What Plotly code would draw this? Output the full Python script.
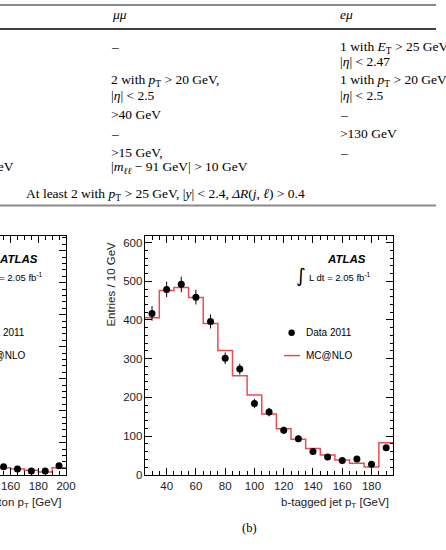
import plotly.graph_objects as go

W, H = 446, 550

# ---------------- data ----------------
# right panel: b-tagged jet pT
b_centers = [30, 40, 50, 60, 70, 80, 90, 100, 110, 120, 130, 140, 150, 160, 170, 180, 190]
b_data = [417, 479, 492, 459, 396, 301, 273, 184, 162, 115, 93, 60, 46, 37, 41, 27, 70]
b_err = [19, 20, 20, 19, 18, 15, 14, 12, 11, 9, 8, 7, 6, 5, 5, 4, 7]
b_mc = [406, 476, 484, 458, 391, 321, 256, 206, 157, 119, 92, 68, 51, 38, 30, 20, 83]
b_edges = [25, 35, 45, 55, 65, 75, 85, 95, 105, 115, 125, 135, 145, 155, 165, 175, 185, 195]

# left panel (mostly cropped): lepton pT
l_centers = [145, 155, 165, 175, 185, 195]
l_data = [35, 25, 18, 12, 12, 28]
l_err = [6, 5, 4, 4, 4, 5]
l_mc = [32, 22, 18, 14, 9, 22]
l_edges = [140, 150, 160, 170, 180, 190, 200]

# table text
hdr_cols = ["<i>μμ</i>", "<i>eμ</i>"]
mumu_lines = ["–",
              "2 with <i>p</i><sub>T</sub> > 20 GeV,",
              "|<i>η</i>| < 2.5",
              ">40 GeV",
              "–",
              ">15 GeV,",
              "|<i>m</i><sub><i>ℓℓ</i></sub> − 91 GeV| > 10 GeV"]
emu_lines = ["1 with <i>E</i><sub>T</sub> > 25 GeV",
             "|<i>η</i>| < 2.47",
             "1 with <i>p</i><sub>T</sub> > 20 GeV",
             "|<i>η</i>| < 2.5",
             "–",
             ">130 GeV",
             "–"]
first_col_tail = "|<i>m</i><sub><i>ℓℓ</i></sub> − 91 GeV| > 10 GeV"
jets_line = "At least 2 with <i>p</i><sub>T</sub> > 25 GeV, |<i>y</i>| < 2.4, <i>ΔR</i>(<i>j</i>, <i>ℓ</i>) > 0.4"

# ---------------- layout helpers ----------------
def px(x):
    return x / W

def py(y):
    return 1 - y / H

SERIF = "Liberation Serif"
SANS = "Liberation Sans"
RED = "#ee4a52"

fig = go.Figure()

# left panel
fig.add_trace(go.Scatter(x=l_edges, y=l_mc + [l_mc[-1]], mode="lines", line_shape="hv",
                         line=dict(color=RED, width=1.5), xaxis="x", yaxis="y", showlegend=False))
fig.add_trace(go.Scatter(x=l_centers, y=l_data, mode="markers",
                         marker=dict(color="black", size=7),
                         error_y=dict(type="data", array=l_err, color="black", thickness=1, width=0),
                         xaxis="x", yaxis="y", showlegend=False))
# right panel
fig.add_trace(go.Scatter(x=b_edges, y=b_mc + [b_mc[-1]], mode="lines", line_shape="hv",
                         line=dict(color=RED, width=1.5), xaxis="x2", yaxis="y2", showlegend=False))
fig.add_trace(go.Scatter(x=b_centers, y=b_data, mode="markers",
                         marker=dict(color="black", size=7),
                         error_y=dict(type="data", array=b_err, color="black", thickness=1, width=0),
                         xaxis="x2", yaxis="y2", showlegend=False))

ydom = [py(480), py(239)]
tickfont = dict(family=SANS, size=11.5, color="#222")
common_x = dict(showline=True, linecolor="black", linewidth=1, mirror="allticks",
                ticks="inside", ticklen=7, tickcolor="black", dtick=20, tick0=0,
                showgrid=False, zeroline=False, tickfont=tickfont,
                minor=dict(dtick=5, ticklen=3.5, ticks="inside", tickcolor="black", showgrid=False))

fig.update_layout(
    width=W, height=H, margin=dict(l=0, r=0, t=0, b=0),
    paper_bgcolor="white", plot_bgcolor="white", showlegend=False,
    xaxis=dict(domain=[0, px(67.5)], range=[152.4, 200], anchor="y", **common_x),
    yaxis=dict(domain=ydom, range=[0, 745], anchor="x", side="right",
               showline=True, linecolor="black", linewidth=1, ticks="inside", ticklen=7,
               tickcolor="black", dtick=100, showticklabels=False, showgrid=False, zeroline=False,
               minor=dict(dtick=20, ticklen=3.5, ticks="inside", tickcolor="black", showgrid=False)),
    xaxis2=dict(domain=[px(148), px(402.5)], range=[25, 195], anchor="y2", **common_x),
    yaxis2=dict(domain=ydom, range=[0, 616], anchor="x2",
                showline=True, linecolor="black", linewidth=1, mirror="allticks",
                ticks="inside", ticklen=7, tickcolor="black", dtick=100,
                showgrid=False, zeroline=False, tickfont=tickfont, ticklabelstandoff=-1,
                minor=dict(dtick=20, ticklen=3.5, ticks="inside", tickcolor="black", showgrid=False)),
)

anns = []

def ann(text, x, y, size, family=SERIF, xanchor="left", yanchor="middle", color="black", **kw):
    anns.append(dict(text=text, x=px(x), y=py(y), xref="paper", yref="paper",
                     xanchor=xanchor, yanchor=yanchor, showarrow=False, borderpad=0,
                     font=dict(family=family, size=size, color=color), **kw))

# ---- table ----
TS = 13.5
ann(hdr_cols[0], 113.3, 15, TS)
ann(hdr_cols[1], 346.7, 15, TS)
mumu_y = [46.7, 81, 96.7, 116, 135, 154.3, 169.3]
emu_y = [47.7, 61.7, 81, 96.7, 116, 135, 154.3]
for t, y in zip(mumu_lines, mumu_y):
    ann(t, 112.5, y, TS)
for t, y in zip(emu_lines, emu_y):
    ann(t, 347, y, TS)
ann(first_col_tail, 15.5, 169.3, TS, xanchor="right")
ann(jets_line, 26, 196.7, TS)

shapes = [
    dict(type="line", xref="paper", yref="paper", x0=0, x1=1, y0=py(5), y1=py(5),
         line=dict(color="#8a8a8a", width=2)),
    dict(type="line", xref="paper", yref="paper", x0=0, x1=1, y0=py(29.3), y1=py(29.3),
         line=dict(color="black", width=1.6)),
    dict(type="line", xref="paper", yref="paper", x0=0, x1=1, y0=py(207.7), y1=py(207.7),
         line=dict(color="#8a8a8a", width=2)),
]

# ---- panel decorations (right edge of each panel as reference) ----
for right_edge, xtitle in [(67.5, "lepton p<sub>T</sub> [GeV]"), (402.5, "b-tagged jet p<sub>T</sub> [GeV]")]:
    ann("<b><i>ATLAS</i></b>", right_edge - 27.5, 261.5, 11.5, family=SANS, xanchor="right")
    ann("∫", right_edge - 95, 279, 19, family="DejaVu Sans", xanchor="center")
    ann("L dt = 2.05 fb<sup>-1</sup>", right_edge - 87.5, 280, 9.5, family=SANS)
    ann("Data 2011", right_edge - 90.5, 336.5, 10, family=SANS)
    ann("MC@NLO", right_edge - 90.5, 359.5, 10, family=SANS)
    ann(xtitle, right_edge - 4, 508.5, 11.5, family=SANS, xanchor="right", color="#222")
    shapes.append(dict(type="circle", xref="paper", yref="paper",
                       x0=px(right_edge - 104.2 - 3.3), x1=px(right_edge - 104.2 + 3.3),
                       y0=py(336.5 + 3.3), y1=py(336.5 - 3.3),
                       fillcolor="black", line=dict(color="black", width=0)))
    shapes.append(dict(type="line", xref="paper", yref="paper",
                       x0=px(right_edge - 112), x1=px(right_edge - 95.5),
                       y0=py(359.5), y1=py(359.5), line=dict(color=RED, width=1.5)))

ann("Entries / 10 GeV", 113.3, 243, 11.5, family=SANS, xanchor="center", yanchor="top",
    textangle=-90, color="#222")
ann("(b)", 255, 534, 12.5, family=SERIF, xanchor="center")

fig.update_layout(annotations=anns, shapes=shapes)
fig.write_html("out.html")
